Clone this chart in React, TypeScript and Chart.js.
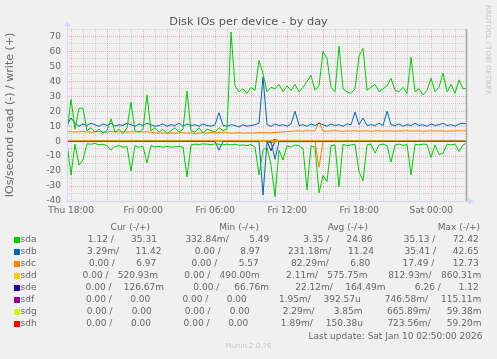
import React, { useEffect, useRef } from 'react';
import { Chart, registerables } from 'chart.js';

Chart.register(...registerables);

// ---- time axis (hours relative to Thu 18:00), 20-minute samples ----
const START_HOUR = -0.35;
const STEP_HOURS = 1 / 3;
const SAMPLE_COUNT = 101;
const X_MIN = -0.35;
const X_MAX = 32.98;
const TICK_HOURS = [0, 6, 12, 18, 24, 30];
const TICK_LABELS = ['Thu 18:00', 'Fri 00:00', 'Fri 06:00', 'Fri 12:00', 'Fri 18:00', 'Sat 00:00'];
const Y_MIN = -40;
const Y_MAX = 75;

const DEVICES = ['sda', 'sdb', 'sdc', 'sdd', 'sde', 'sdf', 'sdg', 'sdh'];
const COLORS = ['#00CC00', '#0066B3', '#FF8000', '#FFCC00', '#330099', '#990099', '#CCFF00', '#FF0000'];

// ---- dense series (one value per sample) ----
const SDA_WRITE = [
  6, 28, 8, 22, 22, 7, 9, 6, 8, 5.5,
  7, 15, 6, 8, 5, 9, 26, 7, 6, 8,
  31, 7, 9, 6, 8, 5, 7, 9, 6, 8,
  33.5, 7, 6, 9, 5.5, 8, 7, 6, 9, 7,
  8, 73, 37, 33, 35, 32, 36, 34, 54, 45,
  33, 36, 35, 38, 33, 37, 34, 38, 33, 36,
  40, 44, 34, 37, 60, 55, 36, 33, 63.5, 35,
  33, 32, 35, 57, 62, 34, 36, 38, 33, 35,
  37, 42, 34, 33, 36, 32, 56, 33, 35, 31,
  34, 42, 33, 36, 45.5, 33, 38, 32, 41, 35,
  35.31,
];
const SDA_READ = [
  1.5, 22.5, 2, 16, 12.5, 1.8, 2, 1.5, 2.5, 2,
  3, 6, 3.5, 3, 4, 3.5, 20, 3, 4, 3.5,
  14.5, 3, 3.8, 3.5, 4, 3.5, 4, 3.8, 3.5, 4,
  24, 2.5, 2, 2.2, 1.8, 2, 2.3, 1.8, 2, 2.5,
  2, 2.5, 2, 2.8, 2.5, 3, 2.2, 4, 22.5, 6,
  4, 16, 37, 6, 12.5, 3, 4, 2.5, 3, 5,
  32.5, 3, 4, 34.5, 23, 27, 3, 2.5, 30.5, 2,
  3, 2.5, 2, 20.5, 26.5, 2.5, 2, 8, 2.5, 2,
  3, 14, 2.5, 2, 2.8, 2.2, 22.5, 2, 2.5, 2,
  2.2, 11, 2.5, 9, 8, 2, 2.5, 2, 7, 2.5,
  1.12,
];
const SDB_WRITE = [
  10.5, 15.5, 12, 10, 11.5, 10.5, 12, 11, 10, 11.5,
  10.5, 12, 10, 11, 10.5, 12, 11, 10, 11.5, 10.5,
  12, 11, 10, 10.5, 11.5, 10, 11, 10.5, 12, 10,
  11.5, 10.5, 11, 10, 11.5, 10.5, 10, 11, 19, 10.5,
  10, 11, 10.5, 9.5, 11, 10, 10.5, 11, 12, 43,
  11, 10, 11.5, 10.5, 11, 10, 11.5, 20, 10.5, 11,
  10, 11.5, 10.5, 12, 11, 10, 11.5, 10.5, 11, 10,
  11.5, 11, 19.5, 11, 15.5, 10.5, 11, 10.5, 12, 10.5,
  20, 11, 10.5, 11.5, 10, 11, 10.5, 12, 10.5, 11,
  10, 11.5, 10.5, 11, 12, 10.5, 11, 10, 11.5, 12,
  11.42,
];
const SDC_WRITE = [
  6.2, 6.4, 6.1, 6.3, 6.5, 6.2, 6.0, 6.3, 6.4, 6.2,
  6.1, 6.5, 6.3, 6.2, 6.4, 6.0, 6.3, 6.2, 6.5, 6.1,
  6.3, 6.0, 5.6, 5.4, 5.5, 5.3, 5.6, 5.4, 5.5, 5.7,
  5.4, 5.6, 5.2, 5.5, 5.6, 5.4, 5.7, 5.5, 5.8, 6.0,
  5.6, 5.4, 5.5, 5.7, 5.3, 5.6, 5.4, 5.5, 5.8, 5.6,
  5.7, 5.5, 5.8, 6.0, 6.2, 6.4, 6.6, 6.8, 6.9, 6.7,
  7.0, 6.8, 6.9, 12.7, 6.8, 6.7, 6.9, 7.0, 6.8, 6.6,
  6.9, 6.8, 7.0, 6.7, 6.8, 6.9, 6.6, 6.8, 7.0, 6.7,
  6.9, 6.8, 6.6, 6.9, 6.8, 7.0, 6.7, 6.8, 6.9, 6.6,
  6.8, 7.0, 6.7, 6.9, 6.8, 6.6, 6.9, 6.8, 7.0, 6.8,
  6.97,
];

// ---- sparse series: [sample index, value] ----
const SDB_READ = [[0, 0.2], [37, 0.2], [38, 6], [39, 0.2], [48, 0.3], [49, 36], [50, 0.4], [51, 0.5], [52, 12], [53, 0.3], [100, 0.0]];
const SDC_READ = [[0, 0.05], [62, 0.05], [63, 17.5], [64, 0.05], [100, 0]];
const SDD_WRITE = [[0, 0.55], [30, 0.6], [60, 0.55], [100, 0.52]];
const SDD_READ = [[0, 0], [51, 0], [52, 0.8], [53, 0], [100, 0]];
const SDE_WRITE = [[0, 0.15], [51, 0.16], [52, 1.1], [53, 0.16], [100, 0.13]];
const SDE_READ = [[0, 0], [50, 0], [51, 6.3], [52, 0], [100, 0]];
const SDF_WRITE = [[0, 0], [100, 0]];
const SDF_READ = [[0, 0], [50, 0], [51, 0.75], [52, 0], [100, 0]];
const SDG_WRITE = [[0, 0], [100, 0]];
const SDG_READ = [[0, 0], [49, 0], [50, 0.67], [51, 0], [100, 0]];
const SDH_WRITE = [[0, 0], [100, 0]];
const SDH_READ = [[0, 0], [50, 0], [51, 0.72], [52, 0], [100, 0]];

// ---- legend table ----
const CUR_READ = ['1.12', '3.29m', '0.00', '0.00', '0.00', '0.00', '0.00', '0.00'];
const CUR_WRITE = ['35.31', '11.42', '6.97', '520.93m', '126.67m', '0.00', '0.00', '0.00'];
const MIN_READ = ['332.84m', '0.00', '0.00', '0.00', '0.00', '0.00', '0.00', '0.00'];
const MIN_WRITE = ['5.49', '8.97', '5.57', '490.00m', '66.76m', '0.00', '0.00', '0.00'];
const AVG_READ = ['3.35', '231.18m', '82.29m', '2.11m', '22.12m', '1.95m', '2.29m', '1.89m'];
const AVG_WRITE = ['24.86', '11.24', '6.80', '575.75m', '164.49m', '392.57u', '3.85m', '150.38u'];
const MAX_READ = ['35.13', '35.41', '17.49', '812.93m', '6.26', '746.58m', '665.89m', '723.56m'];
const MAX_WRITE = ['72.42', '42.65', '12.73', '860.31m', '1.12', '115.11m', '59.38m', '59.20m'];
const HEADERS = ['Cur (-/+)', 'Min (-/+)', 'Avg (-/+)', 'Max (-/+)'];

const TITLE = 'Disk IOs per device - by day';
const Y_TITLE = 'IOs/second read (-) / write (+)';
const LAST_UPDATE = 'Last update: Sat Jan 10 02:50:00 2026';
const SIDE_TEXT = 'RRDTOOL / TOBI OETIKER';
const FOOTER = 'Munin 2.0.76';

const FONT = '"DejaVu Sans", "Noto Sans", sans-serif';
const TEXT_COLOR = '#666666';

const hourOf = (k: number) => START_HOUR + k * STEP_HOURS;
const dense = (arr: number[], sign: number) =>
  arr.slice(0, SAMPLE_COUNT).map((v, k) => ({ x: hourOf(k), y: sign * v }));
const sparse = (arr: number[][], sign: number) => arr.map(([k, v]) => ({ x: hourOf(k), y: sign * v }));

const SERIES: { read: { x: number; y: number }[]; write: { x: number; y: number }[] }[] = [
  { read: dense(SDA_READ, -1), write: dense(SDA_WRITE, 1) },
  { read: sparse(SDB_READ, -1), write: dense(SDB_WRITE, 1) },
  { read: sparse(SDC_READ, -1), write: dense(SDC_WRITE, 1) },
  { read: sparse(SDD_READ, -1), write: sparse(SDD_WRITE, 1) },
  { read: sparse(SDE_READ, -1), write: sparse(SDE_WRITE, 1) },
  { read: sparse(SDF_READ, -1), write: sparse(SDF_WRITE, 1) },
  { read: sparse(SDG_READ, -1), write: sparse(SDG_WRITE, 1) },
  { read: sparse(SDH_READ, -1), write: sparse(SDH_WRITE, 1) },
];

const X_GRID_HOURS: number[] = [];
for (let h = 0; h <= 32; h++) X_GRID_HOURS.push(h);
const Y_GRID: number[] = [];
for (let v = Y_MIN; v <= Y_MAX; v += 5) Y_GRID.push(v);

const MAJOR_GRID = 'rgba(225,120,120,0.5)';
const MINOR_GRID = 'rgba(175,175,175,0.5)';
const AXIS_COLOR = '#CFD6F8';

const decorPlugin = {
  id: 'muninDecor',
  beforeDatasetsDraw(chart: any) {
    const { ctx, chartArea: a, scales } = chart;
    const y0 = Math.round(scales.y.getPixelForValue(0)) + 0.5;
    ctx.save();
    ctx.strokeStyle = '#000000';
    ctx.lineWidth = 1;
    ctx.beginPath();
    ctx.moveTo(a.left, y0);
    ctx.lineTo(a.right, y0);
    ctx.stroke();
    ctx.restore();
  },
  afterDatasetsDraw(chart: any) {
    const { ctx, chartArea: a } = chart;
    ctx.save();
    ctx.strokeStyle = '#a4a4a4';
    ctx.lineWidth = 1.5;
    ctx.beginPath();
    ctx.moveTo(a.right - 0.5, a.top);
    ctx.lineTo(a.right - 0.5, a.bottom);
    ctx.stroke();

    ctx.strokeStyle = AXIS_COLOR;
    ctx.fillStyle = AXIS_COLOR;
    ctx.lineWidth = 1;
    const lx = a.left + 0.5;
    const by = a.bottom + 0.5;
    ctx.beginPath();
    ctx.moveTo(lx, a.top - 3);
    ctx.lineTo(lx, a.bottom + 1);
    ctx.stroke();
    ctx.beginPath();
    ctx.moveTo(a.left - 1, by);
    ctx.lineTo(a.right + 2, by);
    ctx.stroke();
    ctx.beginPath();
    ctx.moveTo(lx - 3, a.top - 3);
    ctx.lineTo(lx + 3, a.top - 3);
    ctx.lineTo(lx, a.top - 8);
    ctx.closePath();
    ctx.fill();
    ctx.beginPath();
    ctx.moveTo(a.right + 1, by - 3);
    ctx.lineTo(a.right + 1, by + 3);
    ctx.lineTo(a.right + 7, by);
    ctx.closePath();
    ctx.fill();
    ctx.restore();
  },
};

// ---- rrdtool-like justified legend layout ----
const unitOf = (s: string) => (/[a-zA-Z]$/.test(s) ? s.slice(-1) : '');
const numOf = (s: string) => (/[a-zA-Z]$/.test(s) ? s.slice(0, -1) : s);
const fmtRead = (s: string) => numOf(s).padStart(6, ' ') + (unitOf(s) || ' ') + '/';
const fmtWrite = (s: string) => numOf(s).padStart(6, ' ') + (unitOf(s) || ' ');
const charW = (c: string) => {
  if (c === ' ' || c === '.' || c === '/') return 3;
  if (c === 'm') return 9;
  return 6;
};
const textW = (s: string) => s.split('').reduce((acc, c) => acc + charW(c), 0);
const LEG_START = 69;
const LEG_RIGHT = 483;
const LEG_SPACE = 11;

function layoutRow(items: string[]) {
  const widths = items.map(textW);
  const sum = widths.reduce((a, b) => a + b, 0);
  const glue = (LEG_RIGHT - LEG_START - sum - 3 * LEG_SPACE) / 8;
  const xs: number[] = [];
  let x = LEG_START + glue;
  items.forEach((_, j) => {
    xs.push(x);
    x += widths[j] + glue + (j % 2 === 1 && j < 7 ? LEG_SPACE : 0);
  });
  return xs;
}

const HEAD_RIGHT = [150, 259, 368, 480];
const ROW_TOP0 = 235.4;
const ROW_STEP = 11.95;

export default function App() {
  const ref = useRef<HTMLCanvasElement>(null);

  useEffect(() => {
    document.body.style.margin = '0';
    const canvas = ref.current;
    if (!canvas) return;
    const datasets: any[] = [];
    SERIES.forEach((s, i) => {
      datasets.push({ label: DEVICES[i] + ' read', data: s.read, borderColor: COLORS[i], backgroundColor: COLORS[i] });
      datasets.push({ label: DEVICES[i] + ' write', data: s.write, borderColor: COLORS[i], backgroundColor: COLORS[i] });
    });
    const tickFont = { family: FONT, size: 9 };
    const chart = new Chart(canvas, {
      type: 'line',
      data: { datasets },
      options: {
        animation: false,
        responsive: false,
        devicePixelRatio: 1,
        layout: { padding: { left: 0, right: 30, top: 29, bottom: 138 } },
        plugins: { legend: { display: false }, tooltip: { enabled: false }, title: { display: false } },
        elements: { point: { radius: 0 }, line: { borderWidth: 1, tension: 0 } },
        scales: {
          x: {
            type: 'linear',
            min: X_MIN,
            max: X_MAX,
            afterBuildTicks: (axis: any) => {
              axis.ticks = X_GRID_HOURS.map((v) => ({ value: v }));
            },
            afterFit: (axis: any) => {
              axis.height = 20;
            },
            ticks: {
              autoSkip: false,
              maxRotation: 0,
              padding: 4,
              color: TEXT_COLOR,
              font: tickFont,
              callback: (v: any) => {
                const i = TICK_HOURS.indexOf(Number(v));
                return i >= 0 ? TICK_LABELS[i] : '';
              },
            },
            grid: {
              drawTicks: false,
              lineWidth: 1,
              color: (ctx: any) => (ctx.tick && ctx.tick.value % 3 === 0 ? MAJOR_GRID : MINOR_GRID),
            },
            border: { display: false, dash: [1, 1] },
          },
          y: {
            type: 'linear',
            min: Y_MIN,
            max: Y_MAX,
            afterBuildTicks: (axis: any) => {
              axis.ticks = Y_GRID.map((v) => ({ value: v }));
            },
            afterFit: (axis: any) => {
              axis.width = 67;
            },
            ticks: {
              autoSkip: false,
              padding: 6,
              color: TEXT_COLOR,
              font: tickFont,
              callback: (v: any) => (Number(v) % 10 === 0 && Number(v) < Y_MAX ? String(v) : ''),
            },
            grid: {
              drawTicks: false,
              lineWidth: 1,
              color: (ctx: any) => (ctx.tick && ctx.tick.value % 10 === 0 ? MAJOR_GRID : MINOR_GRID),
            },
            border: { display: false, dash: [1, 1] },
            title: {
              display: true,
              text: Y_TITLE,
              color: TEXT_COLOR,
              font: { family: FONT, size: 11 },
              padding: { top: 4, bottom: 0 },
            },
          },
        },
      } as any,
      plugins: [decorPlugin],
    });
    return () => chart.destroy();
  }, []);

  const text = (extra: any) => ({
    position: 'absolute' as const,
    whiteSpace: 'pre' as const,
    fontFamily: FONT,
    color: TEXT_COLOR,
    fontSize: 9,
    lineHeight: '9px',
    ...extra,
  });

  return (
    <div style={{ position: 'relative', width: 497, height: 359, background: '#F0F0F0', overflow: 'hidden' }}>
      <canvas ref={ref} width={497} height={359} style={{ position: 'absolute', left: 0, top: 0, width: 497, height: 359 }} />
      <div style={text({ left: 0, width: 497, top: 16, textAlign: 'center', fontSize: 11.3, lineHeight: '11.3px', color: '#555555' })}>{TITLE}</div>
      <div style={text({ left: 483, top: 5, fontSize: 7, lineHeight: '9px', color: '#c4c4c4', writingMode: 'vertical-rl' })}>{SIDE_TEXT}</div>
      {HEADERS.map((h, j) => (
        <div key={h} style={text({ right: 497 - HEAD_RIGHT[j], top: 222.8 })}>{h}</div>
      ))}
      {DEVICES.map((d, i) => {
        const top = ROW_TOP0 + i * ROW_STEP;
        const cells = [
          fmtRead(CUR_READ[i]), fmtWrite(CUR_WRITE[i]),
          fmtRead(MIN_READ[i]), fmtWrite(MIN_WRITE[i]),
          fmtRead(AVG_READ[i]), fmtWrite(AVG_WRITE[i]),
          fmtRead(MAX_READ[i]), fmtWrite(MAX_WRITE[i]),
        ];
        const xs = layoutRow(cells);
        return (
          <React.Fragment key={d}>
            <div style={{ position: 'absolute', left: 14, top: top + 1.8, width: 6, height: 6, background: COLORS[i] }} />
            <div style={text({ left: 20.5, top })}>{d}</div>
            {cells.map((c, j) => (
              <div key={j} style={text({ left: xs[j], top })}>{c}</div>
            ))}
          </React.Fragment>
        );
      })}
      <div style={text({ right: 497 - 482.5, top: 331.8 })}>{LAST_UPDATE}</div>
      <div style={text({ left: 0, width: 497, textAlign: 'center', top: 343, fontSize: 7, lineHeight: '7px', color: '#c8c8c8' })}>{FOOTER}</div>
    </div>
  );
}
